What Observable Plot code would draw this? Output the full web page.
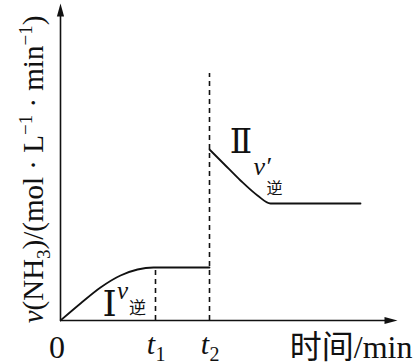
<!DOCTYPE html>
<html><head><meta charset="utf-8">
<script src="https://cdn.jsdelivr.net/npm/d3@7"></script>
<script src="https://cdn.jsdelivr.net/npm/@observablehq/plot@0.6"></script>
<style>body{margin:0;background:#fff} svg{display:block}</style>
</head><body><div id="chart"></div>
<script>
// ---- data (x in arbitrary time units, y in rate units) ----
const tickValues = [0, 9.5, 14.9];          // 0, t1, t2
const tickMain   = ["0", "t", "t"];
const tickSub    = ["", "1", "2"];

const curveI_t = [0, 2, 4, 6, 7.7, 9.3, 14.9];
const curveI_v = [0, 1.7, 3.3, 4.5, 5.1, 5.3, 5.3];

const curveII_t = [14.9, 16.3, 18, 19.7, 21, 30];
const curveII_v = [17.1, 15.7, 14, 12.5, 11.7, 11.7];

const dashTop = [5.3, 24.7];               // heights of dashed lines at t1 and t2
const xAxisEnd = 33.7, yAxisEnd = 31.7;

const xLabel = "时间/min";
const yLabel = "v(NH3)/(mol · L−1 · min−1)";
const regionLabels = ["Ⅰ", "Ⅱ"];

// ---- build ----
const serif = "'Liberation Serif','Times New Roman',serif";
const cjk = "'Noto Sans CJK SC','Noto Sans CJK JP',sans-serif";
const curveI = curveI_t.map((t, i) => ({t, v: curveI_v[i]}));
const curveII = curveII_t.map((t, i) => ({t, v: curveII_v[i]}));
const dashes = [{t: tickValues[1], top: dashTop[0]}, {t: tickValues[2], top: dashTop[1]}];
const ticks = tickValues.map((t, i) => ({t, m: tickMain[i], s: tickSub[i]}));

const arrowHead = {draw(ctx) { ctx.moveTo(0, 0); ctx.lineTo(3.6, 13); ctx.lineTo(-3.6, 13); ctx.closePath(); }};

const chart = Plot.plot({
  width: 413, height: 363,
  marginLeft: 60, marginRight: 13, marginTop: 0, marginBottom: 43,
  x: {domain: [0, 34], axis: null},
  y: {domain: [0, 32], axis: null},
  style: {background: "#fff", color: "#111"},
  marks: [
    // axes
    Plot.ruleY([0], {x1: 0, x2: xAxisEnd - 1, stroke: "#111", strokeWidth: 1.6}),
    Plot.ruleX([0], {y1: 0, y2: yAxisEnd - 1, stroke: "#111", strokeWidth: 1.6}),
    Plot.dot([{x: 0, y: yAxisEnd}], {x: "x", y: "y", symbol: arrowHead, fill: "#111", stroke: "none"}),
    Plot.dot([{x: xAxisEnd, y: 0}], {x: "x", y: "y", symbol: arrowHead, fill: "#111", stroke: "none", rotate: 90}),
    // dashed lines
    Plot.ruleX(dashes, {x: "t", y1: 0, y2: "top", stroke: "#111", strokeWidth: 1.6, strokeDasharray: "5,4"}),
    // curves
    Plot.line(curveI, {x: "t", y: "v", curve: "monotone-x", stroke: "#111", strokeWidth: 1.8}),
    Plot.line(curveII, {x: "t", y: "v", curve: "monotone-x", stroke: "#111", strokeWidth: 1.8}),
    // tick labels
    Plot.text(ticks.filter(d => d.s === ""), {x: "t", y: 0, text: "m", dx: -3.5, dy: 37, lineAnchor: "bottom", fontFamily: serif, fontSize: 32, fill: "#111"}),
    Plot.text(ticks.filter(d => d.s !== ""), {x: "t", y: 0, text: "m", dx: -4.5, dy: 33, lineAnchor: "bottom", fontFamily: serif, fontStyle: "italic", fontSize: 30, fill: "#111"}),
    Plot.text(ticks.filter(d => d.s !== ""), {x: "t", y: 0, text: "s", dx: 5, dy: 40, lineAnchor: "bottom", fontFamily: serif, fontSize: 20, fill: "#111"}),
    // axis titles
    Plot.text([xLabel], {x: xAxisEnd, y: 0, text: d => d, textAnchor: "end", dx: 15, dy: 37, lineAnchor: "bottom", fontFamily: serif + "," + cjk, fontSize: 32, fill: "#111"}),
    Plot.text([yLabel], {x: 0, y: 15.1, text: d => d, rotate: -90, dx: -18, lineAnchor: "bottom", fontFamily: serif, fontSize: 29, fill: "#111"}),
    // region labels
    Plot.text([regionLabels[0]], {x: 4.9, y: 0.5, text: d => d, lineAnchor: "bottom", fontFamily: serif + ",'DejaVu Serif'", fontSize: 36, fill: "#111"}),
    Plot.text(["v"], {x: 6.2, y: 2.2, text: d => d, lineAnchor: "bottom", fontFamily: serif, fontStyle: "italic", fontSize: 25, fill: "#111"}),
    Plot.text(["逆"], {x: 7.7, y: 0.7, text: d => d, lineAnchor: "bottom", fontFamily: cjk, fontSize: 17, fill: "#111"}),
    Plot.text([regionLabels[1]], {x: 18.05, y: 16.8, text: d => d, lineAnchor: "bottom", fontFamily: serif + ",'DejaVu Serif'", fontSize: 33, fill: "#111"}),
    Plot.text(["v′"], {x: 19.3, y: 14.6, text: d => d, textAnchor: "start", lineAnchor: "bottom", fontFamily: serif, fontStyle: "italic", fontSize: 26, fill: "#111"}),
    Plot.text(["逆"], {x: 21.4, y: 12.7, text: d => d, lineAnchor: "bottom", fontFamily: cjk, fontSize: 16, fill: "#111"})
  ]
});

// rich-format the y-axis title (italic v, subscript 3, superscript −1)
const ySel = d3.select(chart).selectAll("text").filter(function() { return this.textContent === yLabel; });
ySel.text(null);
const parts = [
  {s: "v", it: true}, {s: "(NH"}, {s: "3", sub: true}, {s: ")/(mol · L"}, {s: "−1", sup: true},
  {s: " · min"}, {s: "−1", sup: true}, {s: ")"}
];
let shift = 0;
parts.forEach(p => {
  const target = p.sub ? 7 : p.sup ? -11 : 0;
  const ts = ySel.append("tspan").text(p.s).attr("dy", target - shift);
  shift = target;
  if (p.it) ts.attr("font-style", "italic");
  if (p.sub || p.sup) ts.attr("font-size", 19);
});
document.getElementById("chart").appendChild(chart);
</script>
</body></html>
